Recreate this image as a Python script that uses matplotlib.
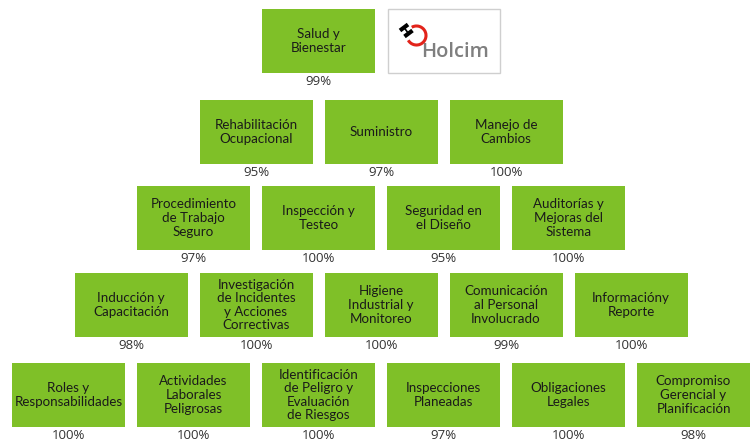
import matplotlib
matplotlib.use("Agg")
import matplotlib.pyplot as plt
from matplotlib.patches import Rectangle, Arc

# pyramid rows, top to bottom
row1_labels = ["Salud y\nBienestar"]
row1_values = [99]
row2_labels = ["Rehabilitación\nOcupacional", "Suministro", "Manejo de\nCambios"]
row2_values = [95, 97, 100]
row3_labels = ["Procedimiento\nde Trabajo\nSeguro", "Inspección y\nTesteo",
               "Seguridad en\nel Diseño", "Auditorías y\nMejoras del\nSistema"]
row3_values = [97, 100, 95, 100]
row4_labels = ["Inducción y\nCapacitación", "Investigación\nde Incidentes\ny Acciones\nCorrectivas",
               "Higiene\nIndustrial y\nMonitoreo", "Comunicación\nal Personal\nInvolucrado",
               "Informacióny\nReporte"]
row4_values = [98, 100, 100, 99, 100]
row5_labels = ["Roles y\nResponsabilidades", "Actividades\nLaborales\nPeligrosas",
               "Identificación\nde Peligro y\nEvaluación\nde Riesgos", "Inspecciones\nPlaneadas",
               "Obligaciones\nLegales", "Compromiso\nGerencial y\nPlanificación"]
row5_values = [100, 100, 100, 97, 100, 98]

rows = [(row1_labels, row1_values), (row2_labels, row2_values), (row3_labels, row3_values),
        (row4_labels, row4_values), (row5_labels, row5_values)]

GREEN = "#7fc028"
W, H = 755, 441
box_w, box_h, pitch = 113, 64, 125
row_tops = [9, 100, 186, 273, 363]

fig = plt.figure(figsize=(W / 100, H / 100), dpi=100)
ax = fig.add_axes([0, 0, 1, 1])
ax.set_xlim(0, W)
ax.set_ylim(H, 0)
ax.axis("off")

box_font = ["Lato", "DejaVu Sans"]
font = ["Open Sans", "DejaVu Sans"]

for r, (labels, values) in enumerate(rows):
    x0 = 12 + (4 - r) * pitch / 2
    top = row_tops[r]
    for i, (lab, val) in enumerate(zip(labels, values)):
        x = x0 + i * pitch
        ax.add_patch(Rectangle((x, top), box_w, box_h, facecolor=GREEN, edgecolor="none"))
        ax.text(x + box_w / 2, top + box_h / 2, lab, ha="center", va="center",
                fontsize=9.6, color="#1a1a1a", family=box_font, linespacing=1.16)
        ax.text(x + box_w / 2, top + box_h + 2, "%d%%" % val, ha="center", va="top",
                fontsize=9.5, color="#333333", family=font)

# Holcim logo box in the top row
lx = 12 + 3 * pitch
ax.add_patch(Rectangle((lx + 1, 9), box_w - 1, box_h, facecolor="white",
                       edgecolor="#cfcfcf", linewidth=1))
ax.add_patch(Arc((416.5, 35.5), 19, 19, theta1=240, theta2=510, color="#e2231a",
                 linewidth=2.2, zorder=3))
ax.plot([400, 408], [30.5, 24.5], color="black", linewidth=3.0, solid_capstyle="butt", zorder=4)
ax.plot([404.5, 412.5], [36.5, 30.5], color="black", linewidth=3.0, solid_capstyle="butt", zorder=4)
ax.plot([404, 408.5], [27.5, 33.5], color="black", linewidth=1.2, zorder=4)
ax.text(421, 57, "Holcim", ha="left", va="baseline", fontsize=14.5, fontweight="semibold",
        color="#7f7f7f", family=font)

fig.savefig("out.png", dpi=100)
